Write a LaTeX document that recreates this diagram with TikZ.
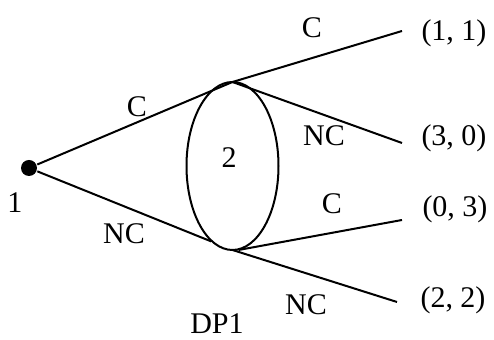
\documentclass[tikz,border=0pt]{standalone}
\usepackage{fontspec}
\setmainfont{Liberation Serif}
\usepackage{tikz}
\usetikzlibrary{shapes.geometric}

\begin{document}
\begin{tikzpicture}[x=0.5pt,y=-0.5pt,line width=1pt,
  every node/.style={font=\fontsize{15}{18}\selectfont,inner sep=0pt},
  decision/.style={circle,fill,minimum size=8pt},
  infoset/.style={draw,ellipse,minimum width=46pt,minimum height=84pt,outer sep=0pt}]
\useasboundingbox (0,0) rectangle (494,340);
% players
\node[decision] (p1) at (29,168) {};
\node[infoset] (p2) at (232.5,166) {};
\node (lbl1) at (15,203) {1};
\node (lbl2) at (229,158) {2};
% ends of the branches and payoffs
\coordinate (e1) at (402,31);
\coordinate (e2) at (402,143);
\coordinate (e3) at (402,220);
\coordinate (e4) at (397,302);
\node (u1) at (454,33) {(1, 1)};
\node (u2) at (454,138) {(3, 0)};
\node (u3) at (455,209) {(0, 3)};
\node (u4) at (453,300) {(2, 2)};
% branches
\draw (p1) -- (p2.north);
\draw[shorten >=11.5pt] (p1) -- (p2.south);
\draw (p2.north) -- (e1);
\draw (p2.north) -- (e2);
\draw ([xshift=3pt]p2.south) -- (e3);
\draw (p2.south) -- (e4);
% actions
\node (a1) at (137,107) {C};
\node (a2) at (124,234) {NC};
\node (a3) at (312,28) {C};
\node (a4) at (324,136) {NC};
\node (a5) at (332,204) {C};
\node (a6) at (306,305) {NC};
\node (dp) at (217,324) {DP1};
\end{tikzpicture}
\end{document}
